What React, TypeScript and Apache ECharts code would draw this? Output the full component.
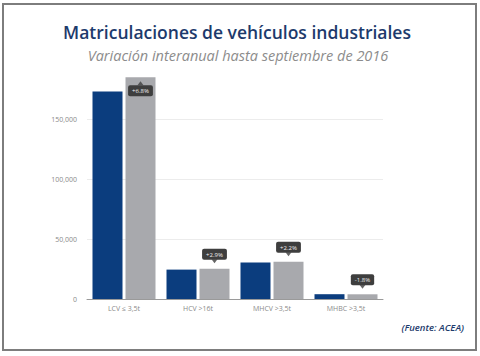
import React, { useEffect, useRef } from "react";
import * as echarts from "echarts";

const categories = ["LCV ≤ 3,5t", "HCV >16t", "MHCV >3,5t", "MHBC >3,5t"];
const values2015 = [173000, 24500, 30400, 4000];
const values2016 = [184800, 25200, 31100, 3930];
const changeLabels = ["+6.8%", "+2.9%", "+2.2%", "-1.8%"];
const gridValues = [50000, 100000, 150000];

const BLUE = "#0b3d7e";
const GRAY = "#a8a9ad";
const NAVY = "#1d3a6c";

export default function App() {
  const ref = useRef<HTMLDivElement>(null);
  useEffect(() => {
    if (!ref.current) return;
    const chart = echarts.init(ref.current, null, { renderer: "svg" });
    const insideFirst = (i: number) => i === 0;
    chart.setOption({
      animation: false,
      backgroundColor: "#ffffff",
      graphic: [
        {
          type: "rect",
          shape: { x: 3, y: 4, width: 473, height: 346 },
          style: { fill: "none", stroke: "#7d7d7d", lineWidth: 2 },
          silent: true,
        },
        {
          type: "text",
          x: 237,
          y: 32,
          style: {
            text: "Matriculaciones de vehículos industriales",
            fontFamily: "Open Sans",
            fontWeight: 600,
            fontSize: 17.5,
            fill: NAVY,
            align: "center",
            verticalAlign: "middle",
          },
        },
        {
          type: "text",
          x: 238,
          y: 55,
          style: {
            text: "Variación interanual hasta septiembre de 2016",
            fontFamily: "Open Sans",
            fontStyle: "italic",
            fontSize: 14.5,
            fill: "#8c8c8c",
            align: "center",
            verticalAlign: "middle",
          },
        },
        {
          type: "text",
          x: 464,
          y: 327,
          style: {
            text: "(Fuente: ACEA)",
            fontFamily: "Open Sans",
            fontStyle: "italic",
            fontWeight: 600,
            fontSize: 9.5,
            fill: NAVY,
            align: "right",
            verticalAlign: "middle",
          },
        },
      ],
      grid: { left: 87, right: 97, top: 77, bottom: 57, containLabel: false },
      xAxis: {
        type: "category",
        data: categories,
        axisLine: { show: true, lineStyle: { color: "#9a9a9a", width: 1 } },
        axisTick: { show: false },
        axisLabel: {
          color: "#8a8a8a",
          fontSize: 7,
          fontFamily: "Open Sans",
          margin: 6,
        },
      },
      yAxis: {
        type: "value",
        min: 0,
        max: 185000,
        interval: 50000,
        axisLine: { show: false },
        axisTick: { show: false },
        splitLine: { show: false },
        axisLabel: {
          color: "#8a8a8a",
          fontSize: 7,
          fontFamily: "Open Sans",
          margin: 10,
          formatter: (v: number) =>
            v % 50000 === 0 ? v.toLocaleString("en-US") : "",
        },
      },
      series: [
        {
          type: "bar",
          data: values2015,
          barWidth: 30,
          barGap: "10%",
          itemStyle: { color: BLUE },
          markLine: {
            silent: true,
            symbol: "none",
            z: 1,
            label: { show: false },
            lineStyle: { color: "#ececec", type: "solid", width: 1 },
            data: gridValues.map((v) => ({ yAxis: v })),
          },
        },
        {
          type: "bar",
          data: values2016.map((v, i) => ({
            value: v,
            label: {
              show: true,
              position: insideFirst(i) ? "insideTop" : "top",
              distance: insideFirst(i) ? 8 : 9,
              formatter: changeLabels[i],
              color: "#f0f0f0",
              fontSize: 6,
              fontFamily: "Open Sans",
              backgroundColor: "#3e3e3e",
              padding: [3, 4, 2, 4],
              borderRadius: 2,
            },
          })),
          barWidth: 30,
          barGap: "10%",
          itemStyle: { color: GRAY },
        },
        {
          type: "scatter",
          silent: true,
          z: 5,
          data: values2016.map((v, i) => ({
            value: [categories[i], v],
            symbolRotate: insideFirst(i) ? 0 : 180,
            symbolOffset: [16.5, insideFirst(i) ? 6 : -7.5],
          })),
          symbol: "triangle",
          symbolSize: [6, 4],
          itemStyle: { color: "#3e3e3e" },
        },
      ],
    });
    return () => chart.dispose();
  }, []);
  return (
    <div
      ref={ref}
      style={{ position: "absolute", left: 0, top: 0, width: 480, height: 356 }}
    />
  );
}
